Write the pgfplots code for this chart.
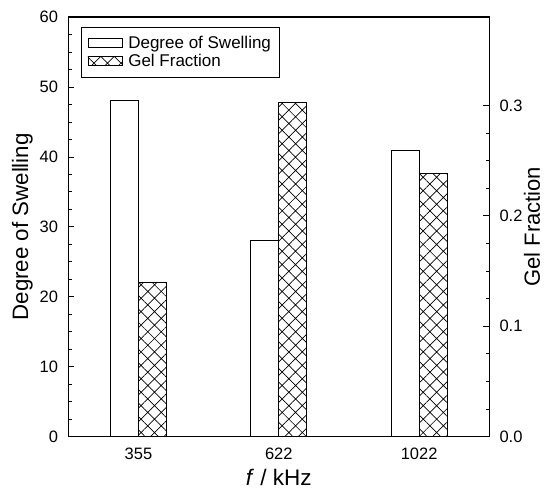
\documentclass[border=0pt]{standalone}
\usepackage{fontspec}
\setmainfont{Liberation Sans}
\usepackage{pgfplots}
\pgfplotsset{compat=1.18}
\usetikzlibrary{patterns.meta}

\pgfplotstableread{
x ds
0 48.1
1 28.1
2 40.9
}\dsdata
\pgfplotstableread{
x gf
0 0.140
1 0.303
2 0.238
}\gfdata

\begin{document}
\begin{tikzpicture}
\pgfplotsset{
  common/.style={
    width=421pt, height=419.7pt, scale only axis,
    xmin=-0.5, xmax=2.5,
    ybar, bar width=0.2,
    tick align=inside,
    major tick length=6pt, minor tick length=3.5pt,
    tick style={line width=0.8pt, black},
    axis line style={line width=1.2pt},
    /pgf/number format/assume math mode=true,
    ticklabel style={font=\fontsize{16.5}{19}\selectfont, inner sep=0pt},
    xtick style={draw=none},
  }
}
\begin{axis}[common, name=main,
  ymin=0, ymax=60,
  xtick={0,1,2}, xticklabels={355,622,1022},
  xtick pos=bottom,
  ytick={0,10,...,60}, minor y tick num=3,
  ytick pos=left,
  xticklabel style={yshift=-11pt},
  yticklabel style={xshift=-10pt},
  xlabel={\textit{f} / kHz},
  ylabel={Degree of Swelling},
  every axis x label/.style={at={(axis description cs:0.5,-0.078)}, anchor=north, inner sep=0pt, font=\fontsize{22.5}{25}\selectfont},
  every axis y label/.style={at={(axis description cs:-0.084,0.5)}, rotate=90, anchor=south, inner sep=0pt, font=\fontsize{22.3}{25}\selectfont},
]
\addplot[bar shift=-0.1, draw=black, line width=0.8pt, fill=white] table[x=x,y=ds] {\dsdata};
\end{axis}
\begin{axis}[common,
  ymin=0, ymax=0.38,
  axis x line=none,
  axis y line*=right,
  ytick={0,0.1,0.2,0.3}, minor y tick num=3,
  yticklabel style={xshift=10pt, /pgf/number format/.cd, fixed, fixed zerofill, precision=1},
  ylabel={Gel Fraction},
  every axis y label/.style={at={(axis description cs:1.082,0.5)}, rotate=90, anchor=north, inner sep=0pt, font=\fontsize{22}{24}\selectfont},
  legend style={at={(axis description cs:0,1)}, anchor=north west, xshift=13pt, yshift=-10pt,
    draw=black, line width=0.6pt, font=\fontsize{17}{19}\selectfont,
    inner xsep=6pt, inner ysep=7pt, row sep=0pt},
  legend cell align=left,
  legend image code/.code={\draw[#1, line width=0.6pt] (0pt,-4.5pt) rectangle (34pt,4.5pt); \path (38pt,0pt);},
]
\addlegendimage{draw=black, fill=white}
\addlegendentry{Degree of Swelling}
\addplot[bar shift=0.1, draw=black, line width=0.8pt, pattern={Hatch[angle=45,distance=9.5pt,line width=0.7pt]}] table[x=x,y=gf] {\gfdata};
\addlegendentry{Gel Fraction}
\end{axis}
\pgfresetboundingbox
\path (main.south west) ++(-68.3pt,-56.3pt) rectangle ++(546pt,493pt);
\end{tikzpicture}
\end{document}
